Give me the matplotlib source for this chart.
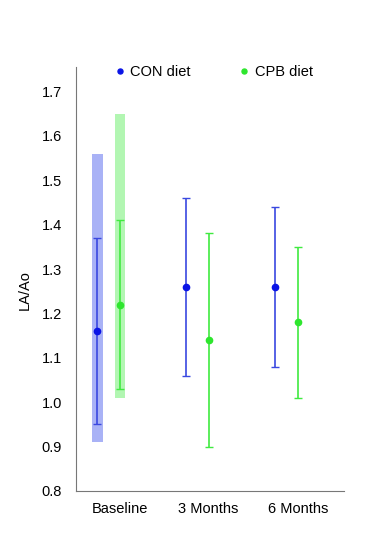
import numpy as np
import matplotlib.pyplot as plt

plt.rcParams['font.family'] = ['Liberation Sans', 'DejaVu Sans']

# Datos
categorias = ['Baseline', '3 Months', '6 Months']
con_media = [1.16, 1.26, 1.26]
con_sup = [1.37, 1.46, 1.44]
con_inf = [0.95, 1.06, 1.08]
cpb_media = [1.22, 1.14, 1.18]
cpb_sup = [1.41, 1.38, 1.35]
cpb_inf = [1.03, 0.90, 1.01]
# rango sombreado solo en Baseline
con_rango = (0.91, 1.56)
cpb_rango = (1.01, 1.65)

x = np.arange(len(categorias))
x_con = x - 0.25
x_cpb = x + 0.0

fig = plt.figure(figsize=(3.79, 5.36), dpi=100)
ax = fig.add_axes([76 / 379, 1 - 491 / 536, (344 - 76) / 379, (491 - 67) / 536])

azul = '#0a14e6'
verde = '#2ee62e'

# barras sombreadas de Baseline
ax.bar(x_con[0], con_rango[1] - con_rango[0], bottom=con_rango[0], width=0.13,
       color='#7080f0', alpha=0.6, zorder=1)
ax.bar(x_cpb[0], cpb_rango[1] - cpb_rango[0], bottom=cpb_rango[0], width=0.11,
       color='#80f080', alpha=0.6, zorder=1)

con_err = [np.array(con_media) - np.array(con_inf), np.array(con_sup) - np.array(con_media)]
cpb_err = [np.array(cpb_media) - np.array(cpb_inf), np.array(cpb_sup) - np.array(cpb_media)]

ax.errorbar(x_con, con_media, yerr=con_err, fmt='o', color=azul, ecolor='#3a48e0',
            elinewidth=1.2, capsize=3, capthick=1, markersize=4.5, label='CON diet', zorder=3)
ax.errorbar(x_cpb, cpb_media, yerr=cpb_err, fmt='o', color=verde, ecolor='#40ea40',
            elinewidth=1.2, capsize=3, capthick=1, markersize=4.5, label='CPB diet', zorder=3)

ax.set_xlim(-0.49, 2.52)
ax.set_ylim(0.8, 1.755)
ax.set_yticks(np.arange(0.8, 1.71, 0.1))
ax.set_yticklabels(['%.1f' % v for v in np.arange(0.8, 1.71, 0.1)], fontsize=10.5)
ax.set_xticks(x)
ax.set_xticklabels(categorias, fontsize=10.5)
ax.tick_params(axis='x', length=0, pad=8)
ax.tick_params(axis='y', length=0, pad=10)

for s in ['top', 'right']:
    ax.spines[s].set_visible(False)
ax.spines['left'].set_color('#777777')
ax.spines['bottom'].set_color('#777777')

ax.set_ylabel('LA/Ao', fontsize=10.5)
ax.yaxis.set_label_coords(-0.165, 0.474)

handles, labels = ax.get_legend_handles_labels()
handles = [h[0] for h in handles]
ax.legend(handles, labels, loc='upper center', ncol=2, frameon=False, fontsize=10.5,
          bbox_to_anchor=(0.507, 1.035), columnspacing=3.1, handletextpad=0.1,
          markerscale=0.8, handlelength=1.2)

fig.savefig('out.png', dpi=100)
